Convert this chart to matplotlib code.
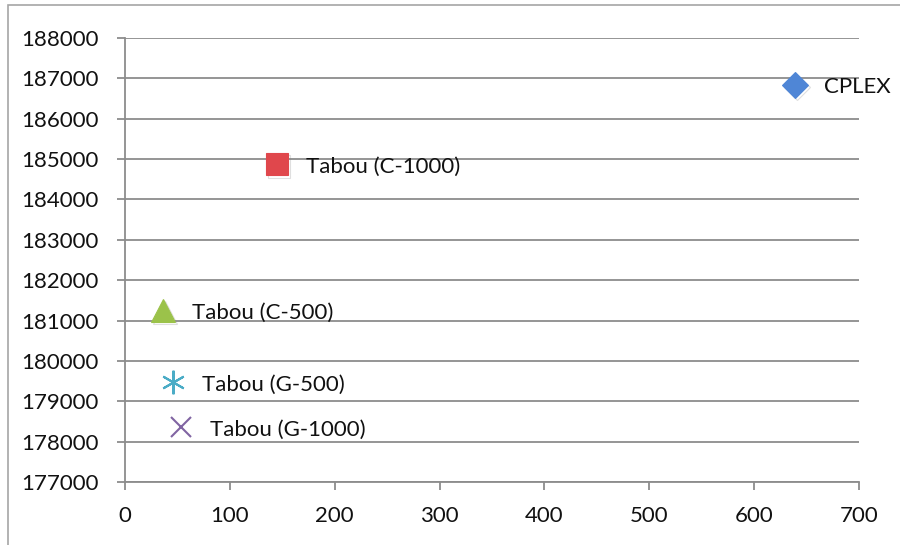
import matplotlib.pyplot as plt
import matplotlib.patheffects as pe
from matplotlib.patches import Rectangle

# solver results: run time vs objective value
labels = ['CPLEX', 'Tabou (C-1000)', 'Tabou (C-500)', 'Tabou (G-500)', 'Tabou (G-1000)']
times = [639, 145, 36, 46, 53]
values = [186830, 184870, 181250, 179470, 178355]

markers = ['D', 's', '^', (6, 2, 0), 'x']
sizes = [13, 16, 17, 17, 15]
colors = ['#4f86d6', '#e0474c', '#9bc24a', '#4bacc6', '#8064a2']

plt.rcParams['font.family'] = ['Lato', 'DejaVu Sans']

fig = plt.figure(figsize=(9, 5.45), dpi=100)
ax = fig.add_axes([125 / 900, 1 - 482 / 545, (859 - 125) / 900, (482 - 38) / 545])

# thin frame around the chart area
fig.patches.append(Rectangle((8 / 900, -0.1), 1.2, 1.1 - 5 / 545,
                             transform=fig.transFigure, fill=False,
                             edgecolor='#a6a6a6', linewidth=1.2))

shadow = [pe.SimpleLineShadow(offset=(1.5, -1.5), alpha=0.25, shadow_color='gray'), pe.Normal()]

for t, v, lab, m, s, c in zip(times, values, labels, markers, sizes, colors):
    if m in ('x', (6, 2, 0)):
        ax.plot(t, v, linestyle='none', marker=m, markersize=s, color=c,
                markeredgewidth=1.5, zorder=3)
    else:
        ax.plot(t, v, linestyle='none', marker=m, markersize=s, markerfacecolor=c,
                markeredgecolor=c, markeredgewidth=0.8, zorder=3, path_effects=shadow)
    ax.annotate(lab, (t, v), xytext=(21, -1.5), textcoords='offset points',
                va='center', ha='left', fontsize=16, color='#111111')

ax.set_xlim(0, 700)
ax.set_ylim(177000, 188000)
ax.set_xticks(range(0, 701, 100))
ax.set_yticks(range(177000, 188001, 1000))

ax.grid(True, axis='y', color='#8c8c8c', linewidth=1.3)
ax.set_axisbelow(True)
for side in ['top', 'right']:
    ax.spines[side].set_visible(False)
for side in ['left', 'bottom']:
    ax.spines[side].set_color('#8c8c8c')
    ax.spines[side].set_linewidth(1.3)

ax.tick_params(axis='both', colors='#8c8c8c', labelcolor='#111111', width=1.3,
               length=6, labelsize=16, direction='out')
ax.tick_params(axis='y', pad=13)
ax.tick_params(axis='x', pad=11)

fig.savefig('out.png', dpi=100)
